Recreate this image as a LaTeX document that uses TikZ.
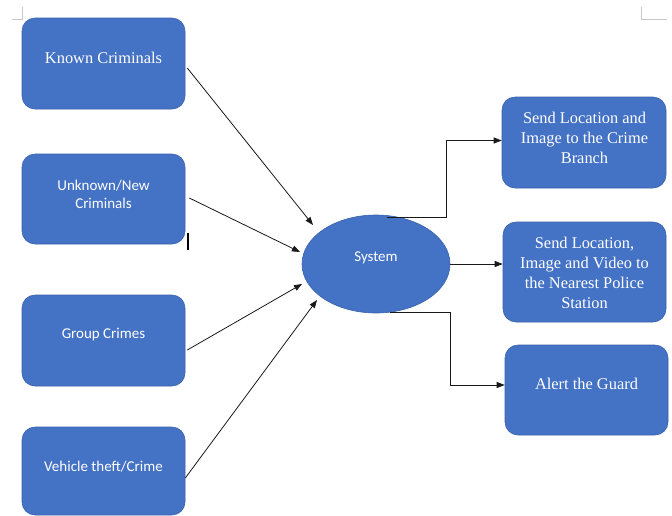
\documentclass[tikz,border=0pt]{standalone}
\usepackage{fontspec}
\setmainfont{Liberation Serif}
\newfontfamily\calib{Carlito}
\usetikzlibrary{arrows.meta,calc,shapes.geometric}
\definecolor{boxblue}{HTML}{4472C4}
\definecolor{boxedge}{HTML}{3A62AD}
\definecolor{markgray}{HTML}{C8C8C8}
\begin{document}
\begin{tikzpicture}[x=1pt,y=-1pt,
  box/.style={draw=boxedge,line width=0.6pt,fill=boxblue,rounded corners=13pt,
    minimum width=163pt,inner sep=0pt},
  serif/.style={text=white,align=center,font=\fontsize{16.4}{20.2}\selectfont,inner sep=0pt},
  sans/.style={text=white,align=center,font=\calib\fontsize{15}{18}\selectfont,inner sep=0pt},
  arr/.style={draw=black!90,line width=0.8pt,-{Triangle[length=8pt,width=6pt]}},
  cornermark/.style={draw=markgray,line width=0.8pt}]
\useasboundingbox (0,0) rectangle (672,515);
% page corner marks
\coordinate (m1a) at (12,19); \coordinate (m1b) at (22.5,19); \coordinate (m1c) at (22.5,7);
\draw[cornermark] (m1a) -- (m1b) -- (m1c);
\coordinate (m2a) at (641,7); \coordinate (m2b) at (641,19); \coordinate (m2c) at (667,19);
\draw[cornermark] (m2a) -- (m2b) -- (m2c);
% left boxes
\node[box,minimum height=91pt] (kc) at (103.5,63.5) {};
\node[serif] (kct) at (103.5,58) {Known Criminals};
\node[box,minimum height=90pt] (un) at (103.5,199) {};
\node[sans] (unt) at (103.5,194) {Unknown/New\\Criminals};
\node[box,minimum height=91pt] (gc) at (103.5,340.5) {};
\node[sans] (gct) at (103.5,335) {Group Crimes};
\node[box,minimum height=88pt] (vt) at (103.5,471) {};
\node[sans] (vtt) at (103.5,467) {Vehicle theft/Crime};
% system
\node[ellipse,draw=boxedge,line width=0.6pt,fill=boxblue,minimum width=148pt,minimum height=98pt,inner sep=0pt] (sys) at (376,264) {};
\node[sans] (syst) at (376,258) {System};
% right boxes
\node[box,minimum width=164pt,minimum height=91pt] (r1) at (584,142.5) {};
\node[serif] (r1t) at (584.5,138) {Send Location and\\Image to the Crime\\Branch};
\node[box,minimum height=100pt] (r2) at (584.5,272) {};
\node[serif] (r2t) at (584.5,273) {Send Location,\\Image and Video to\\the Nearest Police\\Station};
\node[box,minimum height=90pt] (r3) at (586.5,390) {};
\node[serif] (r3t) at (586.5,384) {Alert the Guard};
% cursor mark
\coordinate (cur1) at (188,233); \coordinate (cur2) at (188,250);
\draw[line width=2pt] (cur1) -- (cur2);
% left arrows
\draw[arr] ($(kc.east)+(2,4.5)$) -- ($(sys.center)+(-63,-39)$);
\draw[arr] ($(un.east)+(4,-1)$) -- ($(sys.center)+(-76,-12)$);
\draw[arr] ($(gc.east)+(2,9.5)$) -- ($(sys.center)+(-74,20)$);
\draw[arr] ($(vt.east)+(0,7)$) -- ($(sys.center)+(-59,36)$);
% right connectors
\coordinate (t0) at ($(sys.center)+(11,-47)$);
\coordinate (t1) at (446,217);
\draw[arr] (t0) -- (t1) |- ($(r1.west)+(0,-2)$);
\draw[arr] (sys.east) -- (sys.east -| r2.west);
\coordinate (b0) at ($(sys.center)+(14,48)$);
\coordinate (b1) at (450,312);
\draw[arr] (b0) -- (b1) |- ($(r3.west)+(0,-5)$);
\end{tikzpicture}
\end{document}
